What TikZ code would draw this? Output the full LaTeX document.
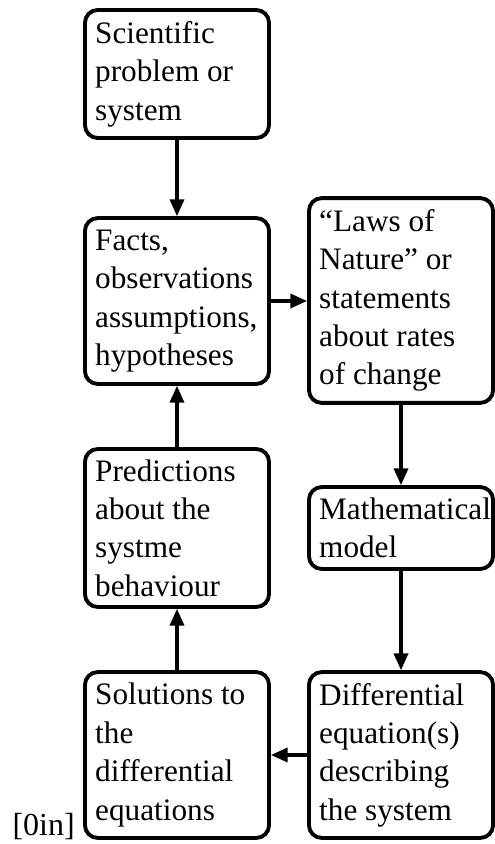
\documentclass[tikz,border=0pt]{standalone}
\usepackage{fontspec}
\setmainfont{Liberation Serif}
\usetikzlibrary{arrows.meta,positioning,calc}
\tikzset{stage/.style={draw,line width=1.5pt,rounded corners=5pt,text width=63.9pt,align=flush left,inner xsep=4pt,inner ysep=2pt,font=\fontsize{12.2}{15}\selectfont},
flow/.style={line width=1.2pt,-{Triangle[length=6.5pt,width=5.5pt]}}}
\begin{document}
\begin{tikzpicture}[x=0.3906pt,y=-0.3906pt]
\useasboundingbox (0,0) rectangle (495,844);
\node[stage,minimum height=50pt] (problem) at (177,74) {Scientific\\problem or\\system};
\node[stage,minimum height=64.8pt] (facts) at (177,301) {Facts,\\observations\\assumptions,\\hypotheses};
\node[stage,minimum height=80pt] (laws) at (401,300.5) {``Laws of\\Nature'' or\\statements\\about rates\\of change};
\node[stage,minimum height=61.7pt] (predict) at (177,528) {Predictions\\about the\\systme\\behaviour};
\node[stage,minimum height=32pt] (model) at (401,528) {Mathematical\\model};
\node[stage,minimum height=64.8pt] (solve) at (177,755) {Solutions to\\the\\differential\\equations};
\node[stage,minimum height=64.8pt] (diffeq) at (401,755) {Differential\\equation(s)\\describing\\the system};
\node[anchor=base west,inner sep=0pt,font=\fontsize{12.5}{15}\selectfont] (gap) at (12,835) {[0in]};
\draw[flow] (problem) -- (facts);
\draw[flow] (facts.east) -- (facts.east -| laws.west);
\draw[flow] (laws) -- (model);
\draw[flow] (model) -- (diffeq);
\draw[flow] (diffeq.west) -- (diffeq.west -| solve.east);
\draw[flow] (solve) -- (predict);
\draw[flow] (predict) -- (facts);
\end{tikzpicture}
\end{document}
